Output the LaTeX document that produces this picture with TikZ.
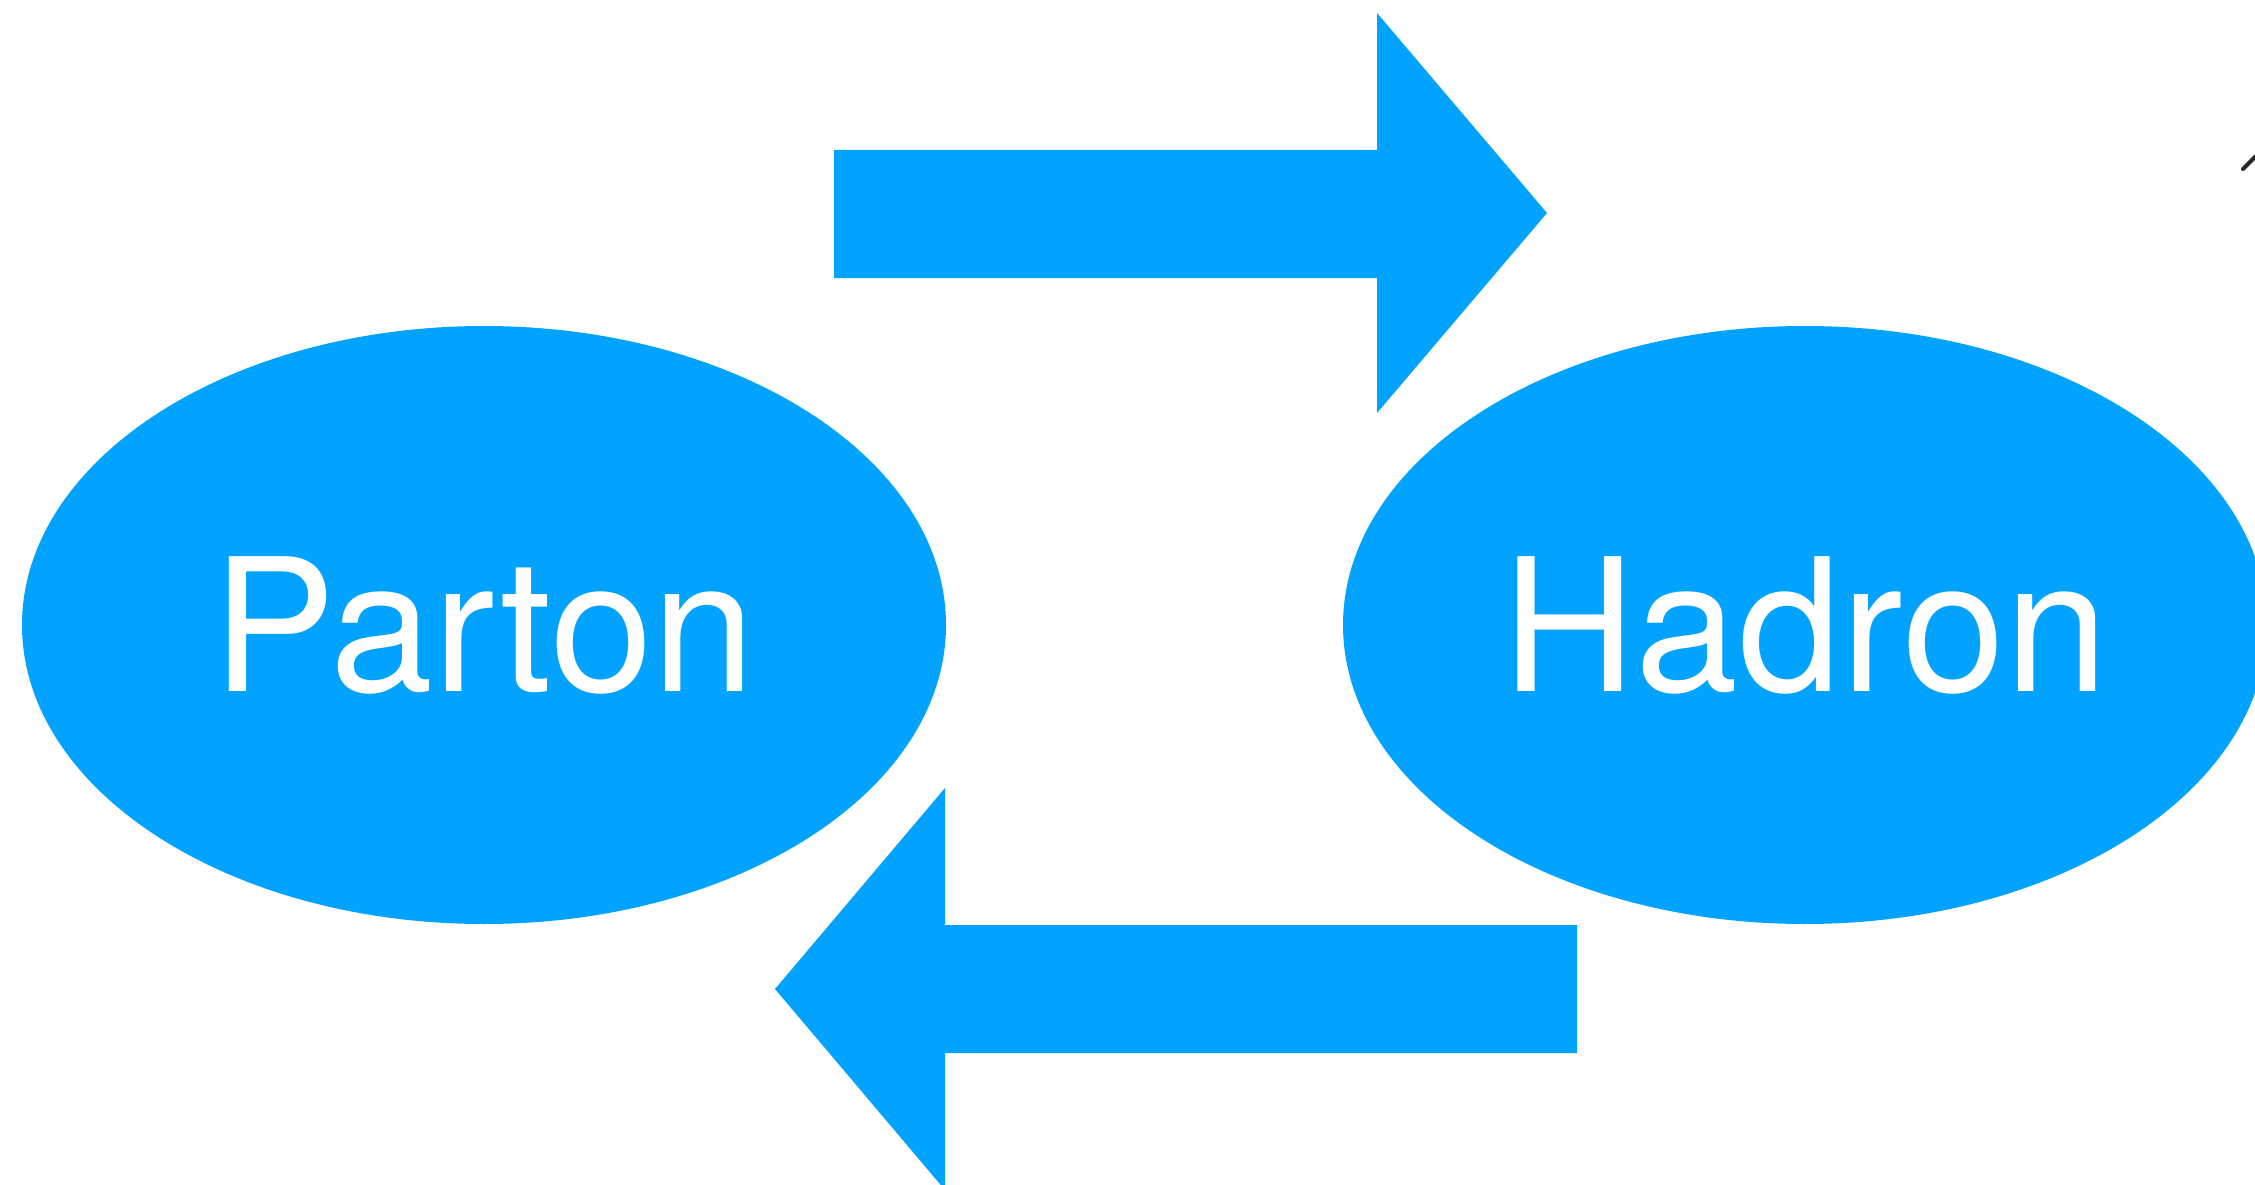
\documentclass[tikz,border=0pt]{standalone}
\usepackage{fontspec}
\setmainfont{TeX Gyre Heros}
\usetikzlibrary{shapes.geometric}
\definecolor{skyblue}{RGB}{2,163,255}
\begin{document}
\begin{tikzpicture}[x=1pt,y=-1pt,
  blob/.style={ellipse, fill=skyblue, draw=none, inner sep=0pt, outer sep=0pt,
    minimum width=924pt, minimum height=598pt, text=white,
    font=\fontsize{185}{200}\selectfont},
  blockarrow/.style={fill=skyblue, draw=none}]
\useasboundingbox (0,0) rectangle (2255,1185);
\node[blob] (parton) at (484,625) {Parton};
\node[blob] (hadron) at (1805,625) {Hadron};
% top block arrow (Parton -> Hadron)
\fill[blockarrow] (834,150) -- (1377,150) -- (1377,13) -- (1547,213)
  -- (1377,413) -- (1377,278) -- (834,278) -- cycle;
% bottom block arrow (Hadron -> Parton)
\fill[blockarrow] (1577,925) -- (945,925) -- (945,788) -- (775,989)
  -- (945,1190) -- (945,1053) -- (1577,1053) -- cycle;
% small stroke at top right
\draw[line width=4pt, line cap=round, black!85] (2243,169) -- (2258,154);
\end{tikzpicture}
\end{document}
